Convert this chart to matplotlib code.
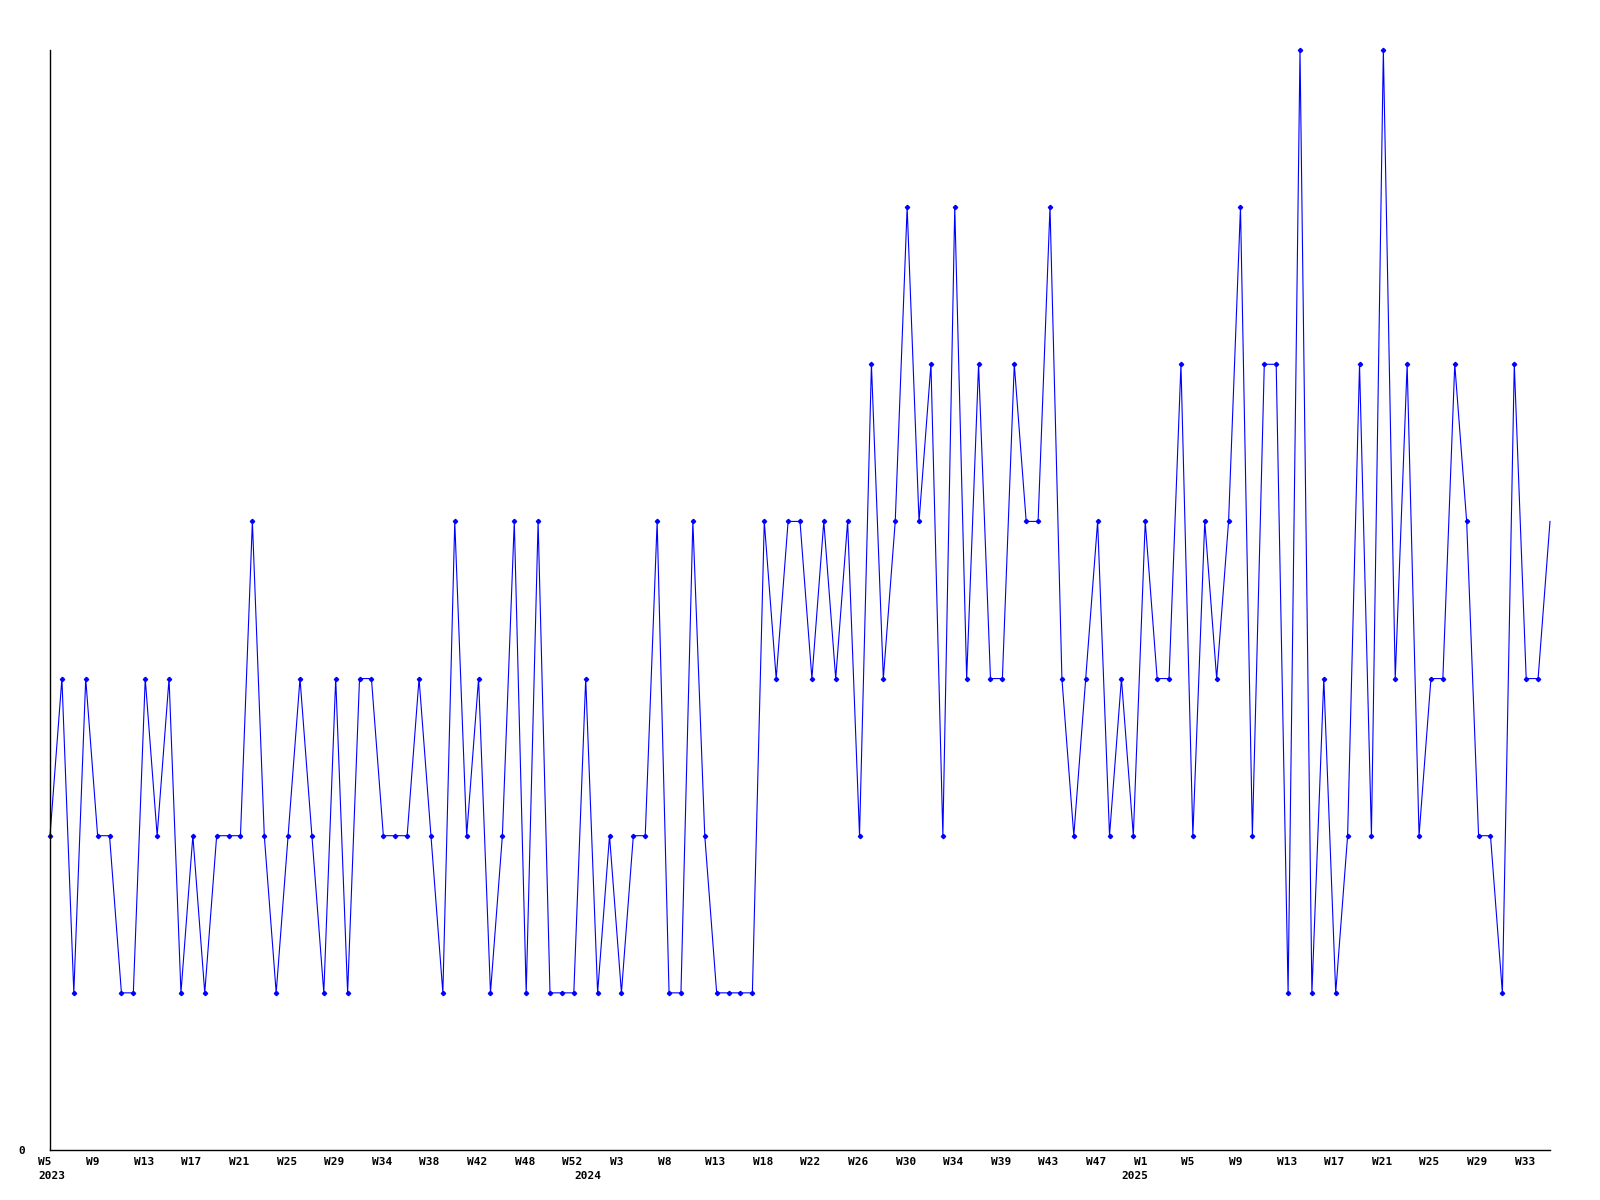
import matplotlib
matplotlib.use("Agg")
import matplotlib.pyplot as plt
import matplotlib.transforms as mtransforms

# one value per period
values = [2, 3, 1, 3, 2, 2, 1, 1, 3, 2, 3, 1, 2, 1, 2, 2, 2, 4, 2, 1,
          2, 3, 2, 1, 3, 1, 3, 3, 2, 2, 2, 3, 2, 1, 4, 2, 3, 1, 2, 4,
          1, 4, 1, 1, 1, 3, 1, 2, 1, 2, 2, 4, 1, 1, 4, 2, 1, 1, 1, 1,
          4, 3, 4, 4, 3, 4, 3, 4, 2, 5, 3, 4, 6, 4, 5, 2, 6, 3, 5, 3,
          3, 5, 4, 4, 6, 3, 2, 3, 4, 2, 3, 2, 4, 3, 3, 5, 2, 4, 3, 4,
          6, 2, 5, 5, 1, 7, 1, 3, 1, 2, 5, 2, 7, 3, 5, 2, 3, 3, 5, 4,
          2, 2, 1, 5, 3, 3, 4]

week_labels = ["W5", "W9", "W13", "W17", "W21", "W25", "W29", "W34", "W38", "W42", "W48", "W52",
               "W3", "W8", "W13", "W18", "W22", "W26", "W30", "W34", "W39", "W43", "W47",
               "W1", "W5", "W9", "W13", "W17", "W21", "W25", "W29", "W33"]
label_step = 4
years = ["2023", "2024", "2025"]
year_index = [0, 45, 91]

font = dict(family="DejaVu Sans Mono", weight="bold", size=8)

fig = plt.figure(figsize=(16, 12), dpi=100)
ax = fig.add_axes([0.03125, 0.04167, 0.9375, 0.91667])

x = list(range(len(values)))
# the last (still running) period has no marker
ax.plot(x, values, color="#0000ff", lw=0.8, marker="D", markersize=2.2,
        markerfacecolor="#0000ff", markeredgecolor="#0000ff",
        markevery=list(range(len(values) - 1)), clip_on=False)

ax.set_xlim(0, len(values) - 1)
ax.set_ylim(0, 7)

for s in ["top", "right"]:
    ax.spines[s].set_visible(False)
for s in ["left", "bottom"]:
    ax.spines[s].set_linewidth(1.0)
    ax.spines[s].set_color("black")

ax.set_yticks([0])
ax.set_yticklabels(["0"], **font)
ax.tick_params(axis="y", length=0, pad=18)

ticks = list(range(0, label_step * len(week_labels), label_step))
ax.set_xticks(ticks)
ax.set_xticklabels(week_labels, **font)
ax.tick_params(axis="x", length=0, pad=5)
shift = mtransforms.ScaledTranslation(-11.5 / 100, 0, fig.dpi_scale_trans)
for lbl in ax.get_xticklabels():
    lbl.set_horizontalalignment("left")
    lbl.set_transform(lbl.get_transform() + shift)

trans = mtransforms.blended_transform_factory(ax.transData, ax.transAxes)
down = mtransforms.ScaledTranslation(-11.5 / 100, -21 / 100, fig.dpi_scale_trans)
for yr, i in zip(years, year_index):
    ax.text(i, 0, yr, transform=trans + down, ha="left", va="top", **font)

fig.savefig("out.png", dpi=100)
